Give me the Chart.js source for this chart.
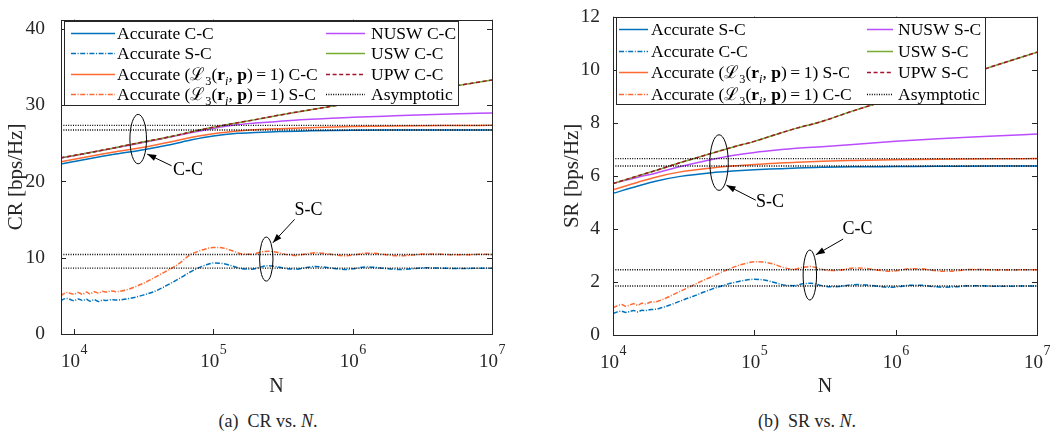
<!DOCTYPE html>
<html>
<head>
<meta charset="utf-8">
<script src="https://cdn.jsdelivr.net/npm/chart.js@4"></script>
<style>
  body { margin: 0; background: #fff; }
  #wrap { position: relative; width: 1062px; height: 432px; background: #fff; overflow: hidden; }
  canvas { position: absolute; top: 0; }
  .cap { position: absolute; top: 411px; line-height: 20px; font-size: 18px; font-family: "Liberation Serif", "Times New Roman", serif;
         color: #262626; white-space: nowrap; transform: translateX(-50%); }
</style>
</head>
<body>
<div id="wrap">
  <canvas id="cr" width="531" height="400" style="left:0"></canvas>
  <canvas id="sr" width="531" height="400" style="left:531px"></canvas>
  <div class="cap" style="left:268px">(a)&nbsp; CR vs. <i>N</i>.</div>
  <div class="cap" style="left:807px">(b)&nbsp; SR vs. <i>N</i>.</div>
</div>
<script>
// ---------- (a) CR vs N ----------
// dense grid for the oscillating S-C curves
const nA = [8000, 8500, 9000, 9500, 10000, 10700, 11500, 12300, 13000, 14000, 15000, 16000, 17000, 18500,
  20000, 22000, 25000, 28000, 32000, 37000, 43000, 50000, 58000, 67000, 78000, 90000, 100000, 115000,
  135000, 160000, 190000, 220000, 250000, 290000, 340000, 400000, 460000, 540000, 640000, 760000, 900000,
  1.05e6, 1.25e6, 1.5e6, 1.8e6, 2.2e6, 2.7e6, 3.3e6, 4e6, 5e6, 6.5e6, 8e6, 1e7];
const crAccSC = [4.35, 4.6, 4.65, 4.5, 4.35, 4.6, 4.4, 4.55, 4.3, 4.5, 4.25, 4.45, 4.4, 4.5,
  4.45, 4.5, 4.65, 4.85, 5.15, 5.5, 6.05, 6.7, 7.35, 8.05, 8.65, 9.1, 9.3, 9.25,
  8.95, 8.55, 8.5, 8.8, 8.95, 8.8, 8.55, 8.5, 8.7, 8.85, 8.75, 8.55, 8.45,
  8.6, 8.8, 8.7, 8.55, 8.45, 8.55, 8.68, 8.65, 8.6, 8.58, 8.63, 8.63];
const crL3SC = [5.0, 5.3, 5.45, 5.3, 5.2, 5.45, 5.2, 5.5, 5.25, 5.55, 5.35, 5.6, 5.5, 5.65,
  5.55, 5.65, 5.9, 6.25, 6.7, 7.3, 7.95, 8.6, 9.35, 10.3, 10.85, 11.2, 11.35, 11.3,
  10.95, 10.5, 10.45, 10.75, 10.85, 10.7, 10.4, 10.3, 10.5, 10.65, 10.55, 10.35, 10.25,
  10.4, 10.6, 10.55, 10.35, 10.25, 10.35, 10.5, 10.48, 10.4, 10.38, 10.45, 10.43];
// coarse grid for the smooth C-C curves
const mA = [8000, 10000, 15000, 20000, 30000, 50000, 70000, 100000, 150000, 200000, 300000, 500000, 1e6, 2e6, 5e6, 1e7];
const crAccCC = [22.26, 22.6, 23.2, 23.6, 24.1, 24.85, 25.45, 25.95, 26.3, 26.42, 26.55, 26.63, 26.7, 26.73, 26.75, 26.75];
const crL3CC  = [22.56, 22.9, 23.5, 23.9, 24.4, 25.2, 25.8, 26.25, 26.6, 26.78, 26.92, 27.05, 27.2, 27.28, 27.33, 27.35];
const crNUSW  = [23.05, 23.38, 23.98, 24.4, 25.05, 25.85, 26.4, 26.95, 27.45, 27.65, 27.88, 28.15, 28.4, 28.6, 28.85, 28.97];
const crUSW   = [23.08, 23.4, 24.0, 24.45, 25.1, 25.9, 26.5, 27.1, 27.7, 28.1, 28.7, 29.4, 30.3, 31.2, 32.4, 33.3];
const crUPW   = [23.08, 23.4, 24.0, 24.45, 25.1, 25.9, 26.5, 27.1, 27.7, 28.1, 28.7, 29.4, 30.3, 31.2, 32.4, 33.3];
const crAsym  = [26.75, 27.35, 8.63, 10.42];

// ---------- (b) SR vs N ----------
const nB = [10000, 10700, 11500, 12300, 13000, 14000, 15000, 16000, 17000, 18500,
  20000, 22000, 25000, 28000, 32000, 37000, 43000, 50000, 58000, 67000, 78000, 90000, 100000, 115000,
  135000, 160000, 190000, 220000, 250000, 290000, 340000, 400000, 460000, 540000, 640000, 760000, 900000,
  1.05e6, 1.25e6, 1.5e6, 1.8e6, 2.2e6, 2.7e6, 3.3e6, 4e6, 5e6, 6.5e6, 8e6, 1e7];
const srAccCC = [0.81, 0.87, 0.9, 0.85, 0.88, 0.92, 0.87, 0.93, 0.92, 0.96,
  0.97, 1.03, 1.12, 1.22, 1.34, 1.46, 1.6, 1.73, 1.84, 1.94, 2.02, 2.08, 2.1, 2.08,
  2.0, 1.89, 1.86, 1.93, 1.95, 1.88, 1.82, 1.83, 1.88, 1.9, 1.88, 1.83, 1.8,
  1.82, 1.88, 1.88, 1.83, 1.8, 1.82, 1.86, 1.86, 1.84, 1.84, 1.85, 1.85];
const srL3CC = [1.02, 1.1, 1.15, 1.08, 1.12, 1.18, 1.12, 1.2, 1.17, 1.24,
  1.25, 1.32, 1.45, 1.58, 1.72, 1.88, 2.05, 2.2, 2.36, 2.5, 2.63, 2.72, 2.76, 2.75,
  2.68, 2.55, 2.48, 2.55, 2.58, 2.5, 2.43, 2.44, 2.5, 2.53, 2.5, 2.44, 2.4,
  2.43, 2.5, 2.5, 2.44, 2.4, 2.42, 2.47, 2.47, 2.45, 2.45, 2.46, 2.46];
const mB = [10000, 15000, 20000, 30000, 50000, 70000, 100000, 150000, 200000, 300000, 500000, 1e6, 2e6, 5e6, 1e7];
const srAccSC = [5.34, 5.62, 5.8, 5.98, 6.12, 6.18, 6.23, 6.27, 6.3, 6.32, 6.34, 6.35, 6.36, 6.37, 6.37];
const srL3SC  = [5.47, 5.76, 5.95, 6.15, 6.3, 6.37, 6.43, 6.48, 6.51, 6.55, 6.58, 6.61, 6.63, 6.64, 6.65];
const srNUSW  = [5.71, 5.95, 6.1, 6.35, 6.62, 6.77, 6.88, 6.98, 7.04, 7.1, 7.18, 7.3, 7.4, 7.5, 7.58];
const srUSW   = [5.71, 6.0, 6.2, 6.5, 6.85, 7.08, 7.3, 7.6, 7.8, 8.05, 8.45, 8.95, 9.45, 10.15, 10.66];
const srUPW   = [5.71, 6.0, 6.2, 6.5, 6.85, 7.08, 7.3, 7.6, 7.8, 8.05, 8.45, 8.95, 9.45, 10.15, 10.66];
const srAsym  = [6.37, 6.65, 1.85, 2.46];

const xTicks = [1e4, 1e5, 1e6, 1e7];
const crTicks = [0, 10, 20, 30, 40];
const srTicks = [0, 2, 4, 6, 8, 10, 12];

// legend label pieces: [text, style]
const L3 = [['Accurate (', ''], ['\u2112', ''], ['3', 'sub'], ['(', ''], ['r', 'b'], ['i', 'subi'], [', ', ''], ['p', 'b'], [')\u2009=\u20091)', '']];
const labelsA = [[['Accurate C-C', '']], [['Accurate S-C', '']], [...L3, [' C-C', '']], [...L3, [' S-C', '']],
  [['NUSW C-C', '']], [['USW C-C', '']], [['UPW C-C', '']], [['Asymptotic', '']]];
const labelsB = [[['Accurate S-C', '']], [['Accurate C-C', '']], [...L3, [' S-C', '']], [...L3, [' C-C', '']],
  [['NUSW S-C', '']], [['USW S-C', '']], [['UPW S-C', '']], [['Asymptotic', '']]];

const SERIF = '"Liberation Serif", "DejaVu Serif", serif';
const BLUE = '#0072BD', ORANGE = '#FF6A33', PURPLE = '#BB4CFF', GREEN = '#77AC30', RED = '#A2142F';
const DASHDOT = [5, 1.6, 1, 1.6], DASH = [4, 2.6], DOT = [1, 1.4];

Chart.defaults.font.family = SERIF;
Chart.defaults.color = '#262626';

function series(label, xs, ys, color, dash, order) {
  return {
    label, data: xs.map((x, i) => ({ x, y: ys[i] })), borderColor: color, backgroundColor: color,
    borderWidth: 1.5, borderDash: dash, pointRadius: 0, fill: false, order, cubicInterpolationMode: 'monotone'
  };
}
function asym(v, x0, x1) {
  return { label: 'Asymptotic', data: [{ x: x0, y: v }, { x: x1, y: v }], borderColor: '#000',
    borderWidth: 1.4, borderDash: DOT, pointRadius: 0, fill: false, order: 0 };
}

function drawRich(ctx, x, y, parts, size) {
  ctx.textAlign = 'left';
  ctx.textBaseline = 'alphabetic';
  ctx.fillStyle = '#000';
  const base = y + size * 0.34;
  for (const [t, s] of parts) {
    let f = size, dy = 0, st = '';
    if (s === 'b') st = 'bold ';
    if (s === 'sub' || s === 'subi') { f = size * 0.7; dy = size * 0.24; if (s === 'subi') st = 'italic '; }
    ctx.font = `${st}${f}px ${SERIF}`;
    ctx.fillText(t, x, base + dy);
    x += ctx.measureText(t).width;
  }
}

// box round the axes, inward tick marks, 10^k tick labels
const framePlugin = {
  id: 'frame',
  afterDatasetsDraw(chart) {
    const { ctx, chartArea: a, scales: { x, y } } = chart;
    ctx.save();
    ctx.strokeStyle = '#262626';
    ctx.lineWidth = 1;
    ctx.strokeRect(Math.round(a.left) + 0.5, Math.round(a.top) + 0.5, Math.round(a.width), Math.round(a.height));
    ctx.beginPath();
    x.ticks.forEach(t => {
      const px = Math.round(x.getPixelForValue(t.value)) + 0.5;
      ctx.moveTo(px, a.bottom); ctx.lineTo(px, a.bottom - 5);
      ctx.moveTo(px, a.top); ctx.lineTo(px, a.top + 5);
    });
    y.ticks.forEach(t => {
      const py = Math.round(y.getPixelForValue(t.value)) + 0.5;
      ctx.moveTo(a.left, py); ctx.lineTo(a.left + 5, py);
      ctx.moveTo(a.right, py); ctx.lineTo(a.right - 5, py);
    });
    ctx.stroke();

    ctx.fillStyle = '#262626';
    ctx.textAlign = 'left';
    ctx.textBaseline = 'alphabetic';
    x.ticks.forEach(t => {
      const px = x.getPixelForValue(t.value);
      const e = String(Math.round(Math.log10(t.value)));
      ctx.font = `19px ${SERIF}`;
      const w1 = ctx.measureText('10').width;
      ctx.font = `14px ${SERIF}`;
      const w2 = ctx.measureText(e).width;
      const left = px - (w1 + w2) / 2;
      ctx.font = `19px ${SERIF}`;
      ctx.fillText('10', left, a.bottom + 33);
      ctx.font = `14px ${SERIF}`;
      ctx.fillText(e, left + w1 + 0.5, a.bottom + 19.5);
    });
    ctx.restore();
  }
};

// ellipse + arrow + label annotations
const notePlugin = {
  id: 'notes',
  afterDatasetsDraw(chart, args, o) {
    const { ctx, scales: { x, y } } = chart;
    ctx.save();
    ctx.strokeStyle = '#000';
    ctx.fillStyle = '#000';
    ctx.lineWidth = 1;
    for (const n of o.list) {
      const cx = x.getPixelForValue(n.at[0]), cy = y.getPixelForValue(n.at[1]);
      ctx.beginPath();
      ctx.ellipse(cx, cy, n.r[0], n.r[1], 0, 0, 2 * Math.PI);
      ctx.stroke();
      const tx = cx + n.tail[0], ty = cy + n.tail[1], hx = cx + n.head[0], hy = cy + n.head[1];
      ctx.beginPath(); ctx.moveTo(tx, ty); ctx.lineTo(hx, hy); ctx.stroke();
      const ang = Math.atan2(hy - ty, hx - tx), L = 9, W = 3.2;
      ctx.beginPath();
      ctx.moveTo(hx, hy);
      ctx.lineTo(hx - L * Math.cos(ang) + W * Math.sin(ang), hy - L * Math.sin(ang) - W * Math.cos(ang));
      ctx.lineTo(hx - L * Math.cos(ang) - W * Math.sin(ang), hy - L * Math.sin(ang) + W * Math.cos(ang));
      ctx.closePath();
      ctx.fill();
      ctx.font = `18px ${SERIF}`;
      ctx.textAlign = 'center';
      ctx.textBaseline = 'middle';
      ctx.fillText(n.text, cx + n.txt[0], cy + n.txt[1]);
    }
    ctx.restore();
  }
};

// two-column legend inside the axes
const legendPlugin = {
  id: 'mlegend',
  afterDraw(chart, args, o) {
    const { ctx, chartArea: ca } = chart;
    const bx = Math.round(ca.left + o.box[0]), by = Math.round(ca.top + o.box[1]);
    ctx.save();
    ctx.fillStyle = '#fff';
    ctx.fillRect(bx, by, o.box[2], o.box[3]);
    ctx.strokeStyle = '#262626';
    ctx.lineWidth = 1;
    ctx.strokeRect(bx + 0.5, by + 0.5, o.box[2], o.box[3]);
    o.labels.forEach((parts, k) => {
      const ds = chart.data.datasets[k];
      const col = o.cols[k < 4 ? 0 : 1];
      const y = Math.round(by + o.row0 + (k % 4) * o.rowGap) + 0.5;
      ctx.beginPath();
      ctx.setLineDash(ds.borderDash || []);
      ctx.strokeStyle = ds.borderColor;
      ctx.lineWidth = ds.borderWidth;
      ctx.moveTo(bx + col[0], y); ctx.lineTo(bx + col[1], y);
      ctx.stroke();
      ctx.setLineDash([]);
      drawRich(ctx, bx + col[2], y, parts, o.size);
    });
    ctx.restore();
  }
};

function makeChart(id, c) {
  const x0 = c.xMin, x1 = 1e7;
  const datasets = [
    series(c.names[0], c.mGrid, c.solidBlue, BLUE, [], 7),
    series(c.names[1], c.nGrid, c.ddBlue, BLUE, DASHDOT, 6),
    series(c.names[2], c.mGrid, c.solidOrange, ORANGE, [], 5),
    series(c.names[3], c.nGrid, c.ddOrange, ORANGE, DASHDOT, 4),
    series(c.names[4], c.mGrid, c.nusw, PURPLE, [], 3),
    series(c.names[5], c.mGrid, c.usw, GREEN, [], 2),
    series(c.names[6], c.mGrid, c.upw, RED, DASH, 1),
    ...c.asym.map(v => asym(v, x0, x1))
  ];
  return new Chart(document.getElementById(id), {
    type: 'line',
    data: { datasets },
    options: {
      responsive: false,
      animation: false,
      events: [],
      layout: { padding: { left: 0, top: 13, right: c.padRight, bottom: 0 } },
      scales: {
        x: {
          type: 'logarithmic', min: x0, max: x1,
          grid: { display: false }, border: { display: false },
          afterBuildTicks: s => { s.ticks = xTicks.map(v => ({ value: v })); },
          afterFit: s => { s.height = c.xHeight; },
          ticks: { display: false },
          title: { display: true, text: 'N', font: { size: 20 }, color: '#262626', padding: { top: 0, bottom: 1 } }
        },
        y: {
          type: 'linear', min: 0, max: c.yMax,
          grid: { display: false }, border: { display: false },
          afterBuildTicks: s => { s.ticks = c.yTicks.map(v => ({ value: v })); },
          afterFit: s => { s.width = c.yWidth; },
          ticks: { font: { size: 19.5 }, color: '#262626', padding: c.yTickPad },
          title: { display: true, text: c.yTitle, font: { size: 21 }, color: '#262626', padding: { top: c.yTitlePad, bottom: 0 } }
        }
      },
      plugins: {
        legend: { display: false },
        tooltip: { enabled: false },
        mlegend: c.legend,
        notes: { list: c.notes }
      }
    },
    plugins: [framePlugin, notePlugin, legendPlugin]
  });
}

makeChart('cr', {
  xMin: 8070, yMax: 41.2, yTicks: crTicks, yTitle: 'CR [bps/Hz]',
  padRight: 39, xHeight: 66, yWidth: 61, yTickPad: 8, yTitlePad: 4,
  names: ['Accurate C-C', 'Accurate S-C', 'Accurate (L3(ri,p)=1) C-C', 'Accurate (L3(ri,p)=1) S-C', 'NUSW C-C', 'USW C-C', 'UPW C-C'],
  nGrid: nA, mGrid: mA,
  solidBlue: crAccCC, ddBlue: crAccSC, solidOrange: crL3CC, ddOrange: crL3SC,
  nusw: crNUSW, usw: crUSW, upw: crUPW, asym: crAsym,
  legend: { box: [3, 1, 394, 84], row0: 12, rowGap: 20.3, cols: [[7, 51, 53], [262, 301, 307]], size: 17.5, labels: labelsA },
  notes: [
    { at: [28900, 25.55], r: [8.3, 24.7], head: [9, 15], tail: [33.4, 26.7], txt: [49.7, 31], text: 'C-C' },
    { at: [240000, 9.82], r: [6.7, 22], head: [6.6, -16.3], tail: [28.3, -39.7], txt: [42.3, -49], text: 'S-C' }
  ]
});

makeChart('sr', {
  xMin: 1e4, yMax: 12, yTicks: srTicks, yTitle: 'SR [bps/Hz]',
  padRight: 25, xHeight: 65, yWidth: 82, yTickPad: 5, yTitlePad: 29,
  names: ['Accurate S-C', 'Accurate C-C', 'Accurate (L3(ri,p)=1) S-C', 'Accurate (L3(ri,p)=1) C-C', 'NUSW S-C', 'USW S-C', 'UPW S-C'],
  nGrid: nB, mGrid: mB,
  solidBlue: srAccSC, ddBlue: srAccCC, solidOrange: srL3SC, ddOrange: srL3CC,
  nusw: srNUSW, usw: srUSW, upw: srUPW, asym: srAsym,
  legend: { box: [3, 0, 369, 87], row0: 12, rowGap: 21.7, cols: [[3, 32, 35], [251, 277, 282]], size: 17.5, labels: labelsB },
  notes: [
    { at: [56300, 6.5], r: [9.2, 27.8], head: [7.4, 22.6], tail: [36.7, 37.6], txt: [51, 39.6], text: 'S-C' },
    { at: [247000, 2.26], r: [6.7, 25], head: [6, -20.3], tail: [33.3, -36], txt: [47.7, -45.3], text: 'C-C' }
  ]
});
</script>
</body>
</html>
